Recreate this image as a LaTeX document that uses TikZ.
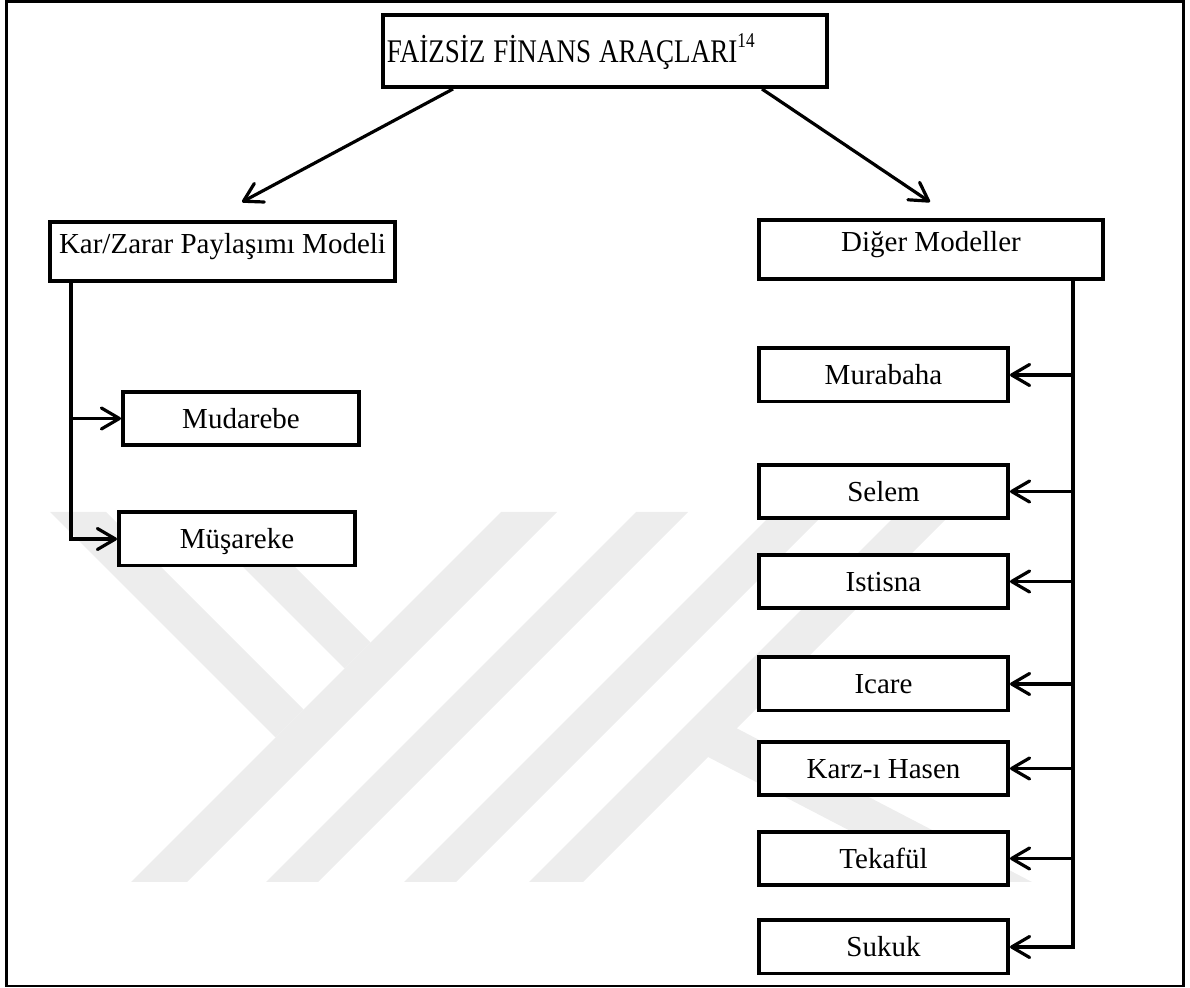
\documentclass[tikz,border=0pt]{standalone}
\usepackage{fontspec}
\setmainfont{Liberation Serif}
\usetikzlibrary{arrows.meta,calc}
\begin{document}
\begin{tikzpicture}[x=0.5pt,y=-0.5pt,
  wm/.style={fill=black!7},
  box/.style={draw,line width=1.8pt,fill=white,inner sep=0pt,
    font=\fontsize{14.5pt}{17pt}\selectfont,text height=10pt,text depth=0pt},
  bigbox/.style={box,minimum height=29.7pt,text depth=7.5pt},
  lbox/.style={box,minimum width=118.2pt,minimum height=26.7pt},
  rbox/.style={box,minimum width=124.7pt,minimum height=26.7pt},
  link/.style={line width=1.6pt,line join=miter,
    -{Straight Barb[length=9pt,width=10.5pt,round]}}]
\useasboundingbox (0,0) rectangle (1190,988);

% faint logo stripes in the background
\begin{scope}
  \fill[wm] (50,512) -- (106,512) -- (303.5,709.5) -- (275.5,737.5) -- cycle;
  \fill[wm] (188,512) -- (240,512) -- (370.5,642.5) -- (344.5,668.5) -- cycle;
  \fill[wm] (501,512) -- (557,512) -- (187,882) -- (131,882) -- cycle;
  \fill[wm] (636,512) -- (688,512) -- (318,882) -- (266,882) -- cycle;
  \fill[wm] (774,512) -- (826,512) -- (456,882) -- (404,882) -- cycle;
  \fill[wm] (899,512) -- (953,512) -- (583,882) -- (529,882) -- cycle;
  \fill[wm] (720,719.6) -- (1032,882) -- (948.5,882) -- (690,747.6) -- cycle;
\end{scope}

% frame
\draw[line width=1.4pt] (6.7,1.5) rectangle (1183.3,986);

% top box
\node[box,minimum width=222.2pt,minimum height=36.2pt,text width=218.2pt,
  inner xsep=2pt,align=left,text height=12pt,text depth=0pt] (title) at (605,51)
  {\scalebox{0.82}[1]{\fontsize{16.5pt}{18pt}\selectfont FAİZSİZ FİNANS ARAÇLARI\raisebox{7.5pt}{\fontsize{10.5pt}{12pt}\selectfont 14}}};

% second level
\node[bigbox,minimum width=172.7pt] (kz) at (222.5,251.5) {Kar/Zarar Paylaşımı Modeli};
\node[bigbox,minimum width=172.2pt] (dm) at (931,249.5) {Diğer Modeller};

% profit and loss sharing models
\node[lbox] (mud) at (241,418.5) {Mudarebe};
\node[lbox] (mus) at (237,539) {Müşareke};

% other models
\node[rbox] (mur) at (883.5,375) {Murabaha};
\node[rbox] (sel) at (883.5,491.5) {Selem};
\node[rbox] (ist) at (883.5,581.5) {Istisna};
\node[rbox] (ica) at (883.5,684) {Icare};
\node[rbox] (krz) at (883.5,768.5) {Karz-ı Hasen};
\node[rbox] (tek) at (883.5,858.5) {Tekafül};
\node[rbox] (suk) at (883.5,947) {Sukuk};

% arrows from the top box
\coordinate (ltip) at (242,202);
\coordinate (rtip) at (930,202);
\draw[link] ($(title.south west)+(72,0)$) -- (ltip);
\draw[link] ($(title.south west)+(381,0)$) -- (rtip);

% left bus
\coordinate (lb) at ($(kz.south west)+(23,0)$);
\draw[link] (lb) |- (mus.west);
\draw[link] (lb |- mud.west) -- (mud.west);

% right bus
\coordinate (rb) at ($(dm.south east)+(-32,0)$);
\draw[link] (rb) |- (suk.east);
\foreach \n in {mur,sel,ist,ica,krz,tek}
  \draw[link] (rb |- \n.east) -- (\n.east);
\end{tikzpicture}
\end{document}
